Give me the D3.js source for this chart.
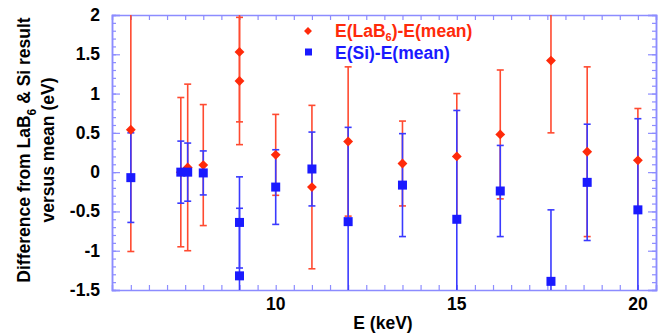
<!DOCTYPE html>
<html>
<head>
<meta charset="utf-8">
<script src="https://cdn.jsdelivr.net/npm/d3@7"></script>
<style>
body { margin: 0; background: #fff; }
text { font-family: "Liberation Sans", Arial, sans-serif; font-weight: bold; }
</style>
</head>
<body>
<svg id="canvas"></svg>
<script>
// LaB6 points: energy, value, error
let labE   = [6.0, 7.38, 7.57, 8.0, 9.0, 9.0, 10.0, 11.0, 12.0, 13.5, 15.0, 16.2, 17.6, 18.6, 20.0]
let labVal = [0.54, 0.0, 0.06, 0.09, 1.53, 1.16, 0.22, -0.19, 0.39, 0.11, 0.2, 0.48, 1.42, 0.26, 0.15]
let labErr = [1.55, 0.95, 1.06, 0.77, 0.89, 0.81, 0.515, 1.04, 0.95, 0.54, 0.8, 0.82, 0.92, 1.08, 0.66]

// Si points
let siE   = [6.0, 7.38, 7.57, 8.0, 9.0, 9.0, 10.0, 11.0, 12.0, 13.5, 15.0, 16.2, 17.6, 18.6, 20.0]
let siVal = [-0.07, 0.0, 0.0, -0.01, -0.64, -1.32, -0.19, 0.04, -0.63, -0.165, -0.6, -0.24, -1.39, -0.13, -0.48]
let siErr = [0.57, 0.395, 0.37, 0.28, 0.58, 0.86, 0.475, 0.47, 1.2, 0.655, 1.385, 0.58, 0.91, 0.74, 1.16]

let xTicks = [10, 15, 20]
let yTicks = [-1.5, -1, -0.5, 0, 0.5, 1, 1.5, 2]

let width = 663
let height = 333
let padL = 112, padR = 656, padT = 15, padB = 290

let red = "#ff2a0a"
let redBar = "#ff4a30"
let blue = "#1a1aff"
let blueBar = "#3a3aff"
let frame = "#8c8cff"

let canvas = d3.select("#canvas").attr("width", width).attr("height", height)

let xScale = d3.scaleLinear().domain([5.48, 20.5]).range([padL, padR])
let yScale = d3.scaleLinear().domain([-1.5, 2]).range([padB, padT])

let labData = labE.map((e, i) => ({e: e, v: labVal[i], err: labErr[i]}))
let siData = siE.map((e, i) => ({e: e, v: siVal[i], err: siErr[i]}))

canvas.append("clipPath").attr("id", "clip")
    .append("rect").attr("x", padL).attr("y", padT).attr("width", padR - padL).attr("height", padB - padT)

let drawAxes = () => {
    let minorX = d3.range(6, 20.6, 0.5)
    let minorY = d3.range(-1.4, 2.0, 0.1)

    let g = canvas.append("g")
    let xb = d3.axisBottom(xScale).tickValues(minorX).tickSize(-5).tickFormat("")
    let xt = d3.axisTop(xScale).tickValues(minorX).tickSize(-5).tickFormat("")
    let yl = d3.axisLeft(yScale).tickValues(minorY).tickSize(-4).tickFormat("")
    let yr = d3.axisRight(yScale).tickValues(minorY).tickSize(-4).tickFormat("")
    let ylM = d3.axisLeft(yScale).tickValues(yTicks).tickSize(-8).tickFormat("")
    let yrM = d3.axisRight(yScale).tickValues(yTicks).tickSize(-8).tickFormat("")

    g.append("g").attr("transform", "translate(0," + padB + ")").call(xb)
    g.append("g").attr("transform", "translate(0," + padT + ")").call(xt)
    g.append("g").attr("transform", "translate(" + padL + ",0)").call(yl)
    g.append("g").attr("transform", "translate(" + padR + ",0)").call(yr)
    g.append("g").attr("transform", "translate(" + padL + ",0)").call(ylM)
    g.append("g").attr("transform", "translate(" + padR + ",0)").call(yrM)

    g.selectAll(".domain").attr("stroke", frame).attr("stroke-width", 1.5)
    g.selectAll(".tick line").attr("stroke", frame).attr("stroke-width", 1.2)

    canvas.append("g").selectAll("text").data(xTicks).enter().append("text")
        .attr("x", d => xScale(d)).attr("y", padB + 20)
        .attr("text-anchor", "middle").attr("font-size", 17.5).text(d => d)

    canvas.append("g").selectAll("text").data(yTicks).enter().append("text")
        .attr("x", 100).attr("y", d => yScale(d) + 6)
        .attr("text-anchor", "end").attr("font-size", 17.5).text(d => d)

    canvas.append("text").attr("x", 383).attr("y", 329)
        .attr("text-anchor", "middle").attr("font-size", 17.5).text("E (keV)")

    let yt = canvas.append("text").attr("transform", "translate(30,150) rotate(-90)")
        .attr("text-anchor", "middle").attr("font-size", 17.5)
    yt.append("tspan").text("Difference from LaB")
    yt.append("tspan").attr("font-size", 12).attr("dy", 6).text("6")
    yt.append("tspan").attr("dy", -6).text(" & Si result")
    canvas.append("text").attr("transform", "translate(54,150) rotate(-90)")
        .attr("text-anchor", "middle").attr("font-size", 17.5).text("versus mean (eV)")
}

let drawBars = (data, color) => {
    let g = canvas.append("g").attr("clip-path", "url(#clip)")
    g.selectAll("line.bar").data(data).enter().append("line")
        .attr("x1", d => xScale(d.e)).attr("x2", d => xScale(d.e))
        .attr("y1", d => yScale(d.v - d.err)).attr("y2", d => yScale(d.v + d.err))
        .attr("stroke", color).attr("stroke-width", 1.6)
    let caps = []
    data.forEach(d => { caps.push({e: d.e, y: d.v - d.err}); caps.push({e: d.e, y: d.v + d.err}) })
    g.selectAll("line.cap").data(caps).enter().append("line")
        .attr("x1", d => xScale(d.e) - 3.5).attr("x2", d => xScale(d.e) + 3.5)
        .attr("y1", d => yScale(d.y)).attr("y2", d => yScale(d.y))
        .attr("stroke", color).attr("stroke-width", 1.6)
}

let drawPoints = () => {
    let diamond = d3.symbol().type(d3.symbolDiamond2).size(62)
    canvas.append("g").selectAll("path").data(labData).enter().append("path")
        .attr("d", diamond)
        .attr("transform", d => "translate(" + xScale(d.e) + "," + yScale(d.v) + ")")
        .attr("fill", red)
    canvas.append("g").selectAll("rect").data(siData).enter().append("rect")
        .attr("x", d => xScale(d.e) - 4.5).attr("y", d => yScale(d.v) - 4.5)
        .attr("width", 9).attr("height", 9).attr("fill", blue)
}

let drawLegend = () => {
    canvas.append("path").attr("d", d3.symbol().type(d3.symbolDiamond2).size(40))
        .attr("transform", "translate(308,31)").attr("fill", red)
    canvas.append("rect").attr("x", 305).attr("y", 48.5).attr("width", 7).attr("height", 7).attr("fill", blue)

    let t1 = canvas.append("text").attr("x", 335).attr("y", 37).attr("font-size", 17.5).attr("fill", red)
    t1.append("tspan").text("E(LaB")
    t1.append("tspan").attr("font-size", 11).attr("dy", 4).text("6")
    t1.append("tspan").attr("dy", -4).text(")-E(mean)")
    canvas.append("text").attr("x", 335).attr("y", 59).attr("font-size", 17.5).attr("fill", blue)
        .text("E(Si)-E(mean)")
}

drawAxes()
drawBars(labData, redBar)
drawBars(siData, blueBar)
drawPoints()
drawLegend()
</script>
</body>
</html>
